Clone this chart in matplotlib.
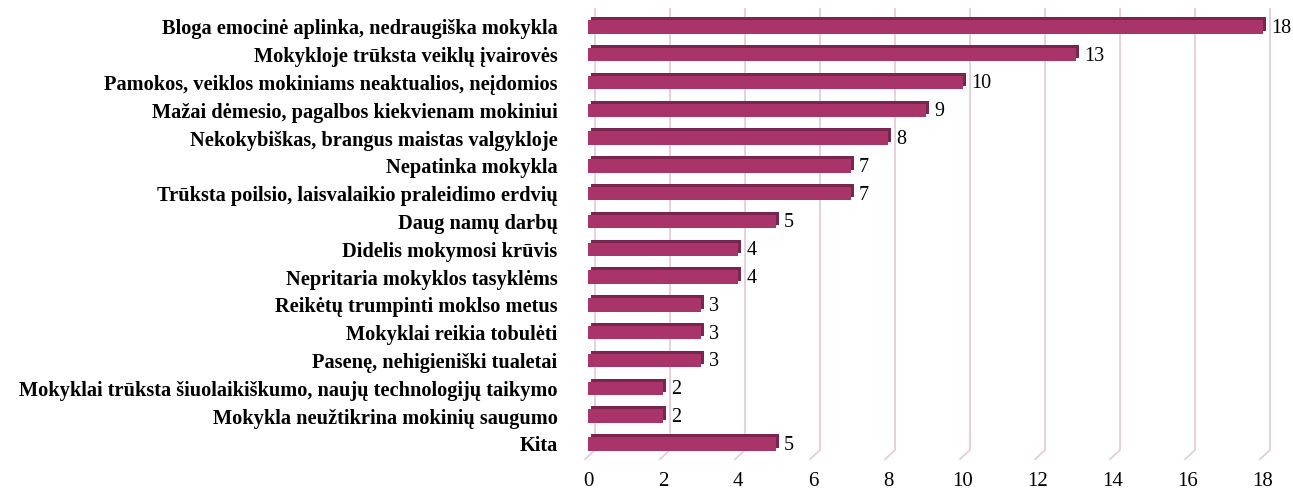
import matplotlib.pyplot as plt
from matplotlib.transforms import offset_copy

categories = [
    "Bloga emocinė aplinka, nedraugiška mokykla",
    "Mokykloje trūksta veiklų įvairovės",
    "Pamokos, veiklos mokiniams neaktualios, neįdomios",
    "Mažai dėmesio, pagalbos kiekvienam mokiniui",
    "Nekokybiškas, brangus maistas valgykloje",
    "Nepatinka mokykla",
    "Trūksta poilsio, laisvalaikio praleidimo erdvių",
    "Daug namų darbų",
    "Didelis mokymosi krūvis",
    "Nepritaria mokyklos tasyklėms",
    "Reikėtų trumpinti moklso metus",
    "Mokyklai reikia tobulėti",
    "Pasenę, nehigieniški tualetai",
    "Mokyklai trūksta šiuolaikiškumo, naujų technologijų taikymo",
    "Mokykla neužtikrina mokinių saugumo",
    "Kita",
]
values = [18, 13, 10, 9, 8, 7, 7, 5, 4, 4, 3, 3, 3, 2, 2, 5]
ticks = [0, 2, 4, 6, 8, 10, 12, 14, 16, 18]

plt.rcParams['font.family'] = ['Liberation Serif', 'DejaVu Serif']

fig = plt.figure(figsize=(12.93, 4.92), dpi=100)
ax = fig.add_axes([0.4548, 0.0752, 0.5313, 0.9085])

pos = list(range(len(categories)))
ytop, ybot = -0.68, 15.40

# 3D depth: darker copy shifted up/right behind the front face
shift = offset_copy(ax.transData, fig=fig, x=3, y=3, units='dots')
ax.barh(pos, values, height=0.48, color='#7a2550', transform=shift, zorder=2)
ax.barh(pos, values, height=0.48, color='#a8346a', zorder=3)

for p, v in zip(pos, values):
    ax.annotate(str(v), (v, p), xytext=(6, -1), textcoords='offset points',
                va='center', ha='left', fontsize=14.5, zorder=4)

ax.set_xlim(0, 18.32)
ax.set_ylim(ybot, ytop)
ax.set_xticks(ticks)
ax.set_yticks(pos)
ax.set_yticklabels(categories, fontsize=14.7, fontweight='bold')
ax.tick_params(axis='x', length=0, labelsize=15, pad=12)
ax.tick_params(axis='y', length=0, pad=22)

# gridlines with a small perspective foot
dx = 7 / 37.5
for t in ticks:
    ax.plot([t + dx, t + dx, t - 3 / 37.5], [ytop + 0.03, 15.22, 15.55],
            color='#e6cdd8', lw=1.3, zorder=1, clip_on=False)

for s in ax.spines.values():
    s.set_visible(False)

fig.savefig('out.png', dpi=100)
